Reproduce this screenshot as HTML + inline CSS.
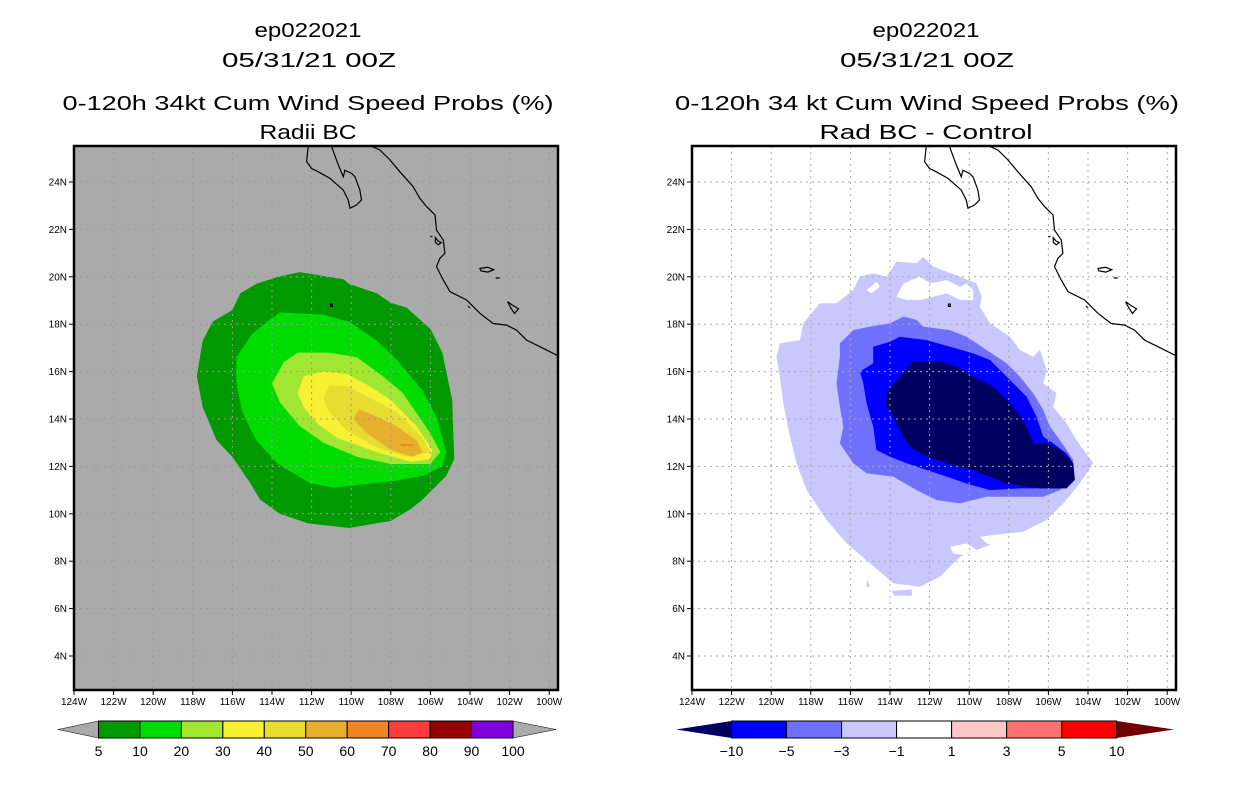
<!DOCTYPE html>
<html><head><meta charset="utf-8"><style>
html,body{margin:0;padding:0;background:#fff;}
svg{display:block;font-family:"Liberation Sans",sans-serif;}
</style></head><body>
<svg id="fig" width="1236" height="800" viewBox="0 0 1236 800" xmlns="http://www.w3.org/2000/svg">
<defs>
<clipPath id="clipL"><rect x="74" y="146" width="484" height="544"/></clipPath>
<clipPath id="clipR"><rect x="692" y="146" width="484" height="544"/></clipPath>
</defs>
<g font-size="20" text-anchor="middle" fill="#000" lengthAdjust="spacingAndGlyphs">
<text x="308" y="37" textLength="107" lengthAdjust="spacingAndGlyphs">ep022021</text>
<text x="309" y="67" textLength="174" lengthAdjust="spacingAndGlyphs">05/31/21 00Z</text>
<text x="308" y="110" textLength="491" lengthAdjust="spacingAndGlyphs">0-120h 34kt Cum Wind Speed Probs (%)</text>
<text x="308" y="139" textLength="97" lengthAdjust="spacingAndGlyphs">Radii BC</text>
</g>
<g font-size="20" text-anchor="middle" fill="#000">
<text x="926" y="37" textLength="107" lengthAdjust="spacingAndGlyphs">ep022021</text>
<text x="927" y="67" textLength="174" lengthAdjust="spacingAndGlyphs">05/31/21 00Z</text>
<text x="927" y="110" textLength="504" lengthAdjust="spacingAndGlyphs">0-120h 34 kt Cum Wind Speed Probs (%)</text>
<text x="926" y="139" textLength="213" lengthAdjust="spacingAndGlyphs">Rad BC - Control</text>
</g>
<g id="left"></g>
<g id="right"></g>
</svg>
<script>
// Axis ticks
const lonTicks = [124,122,120,118,116,114,112,110,108,106,104,102,100];
const latTicks = [4,6,8,10,12,14,16,18,20,22,24];
// Left colorbar
const leftLevels = ['5','10','20','30','40','50','60','70','80','90','100'];
const leftColors = ['#009900','#00dc00','#a0e632','#f8f032','#e6dc32','#e6af2d','#f08228','#fa3c3c','#960000','#8200dc'];
// Right colorbar
const rightLevels = ['\u221210','\u22125','\u22123','\u22121','1','3','5','10'];
const rightColors = ['#000060','#0000ff','#7070ff','#c8c8ff','#ffffff','#ffc8c8','#ff7070','#ff0000','#700000'];

// Left contours [lonW, latN]
const prob5 = [[112.6,20.2],[110.4,19.9],[110.1,19.7],[108.7,19.3],[108.0,18.9],[107.2,18.7],[106.0,17.8],[105.4,16.8],[104.9,14.8],[104.8,12.3],[105.2,11.6],[106.4,10.6],[107.0,10.2],[108.0,9.7],[110.1,9.4],[112.2,9.6],[113.6,10.0],[114.6,10.6],[115.1,11.3],[116.0,12.4],[116.8,13.1],[117.5,14.5],[117.8,15.8],[117.5,17.3],[117.0,18.1],[116.0,18.6],[115.6,19.3],[114.8,19.7],[113.7,20.0]];
const prob10 = [[113.6,18.5],[111.4,18.4],[110.1,18.1],[108.7,17.3],[107.7,16.5],[106.4,15.2],[105.7,14.1],[105.2,12.6],[105.4,12.0],[106.4,11.6],[107.7,11.4],[110.9,11.1],[112.1,11.3],[113.7,12.1],[114.8,13.1],[115.5,14.3],[115.8,15.5],[115.8,16.6],[115.0,17.6],[114.1,18.2]];
const prob20 = [[112.7,16.8],[111.1,16.8],[109.7,16.6],[108.4,15.8],[107.4,15.1],[106.0,13.4],[105.5,12.6],[106.0,12.1],[108.0,12.1],[109.7,12.4],[111.4,13.0],[112.6,13.7],[113.6,14.7],[114.0,15.5],[113.4,16.4]];
const prob30 = [[112.4,15.8],[111.4,16.0],[110.2,15.9],[109.1,15.4],[108.0,14.8],[106.7,13.7],[105.9,12.7],[106.0,12.3],[107.0,12.2],[108.7,12.6],[110.7,13.2],[111.7,13.8],[112.4,14.5],[112.7,15.1]];
const prob40 = [[111.1,15.4],[110.2,15.4],[109.1,14.9],[107.7,14.3],[106.4,13.2],[106.0,12.6],[107.2,12.4],[108.7,12.8],[110.2,13.5],[111.2,14.4],[111.4,14.9]];
const prob50 = [[109.6,14.4],[108.7,14.1],[107.7,13.7],[106.7,13.1],[106.4,12.6],[106.9,12.4],[108.0,12.7],[109.2,13.4],[109.9,14.0]];

// Right difference contours
const diffM1 = [[113.67,20.64],[112.66,20.57],[112.32,20.85],[111.82,20.43],[110.47,20.01],[109.63,19.72],[109.37,19.16],[109.46,18.74],[108.95,18.04],[107.94,17.47],[107.44,16.91],[106.77,16.63],[106.43,16.91],[106.09,16.07],[106.26,15.50],[105.59,15.08],[105.76,14.52],[105.08,13.82],[104.58,13.11],[103.73,12.13],[104.41,11.29],[105.25,10.44],[106.09,9.74],[107.44,9.18],[108.78,8.75],[110.47,8.19],[111.48,7.35],[112.49,6.92],[113.84,7.07],[115.01,7.91],[116.19,8.75],[117.20,9.74],[118.21,11.00],[118.72,12.13],[119.05,13.25],[119.39,14.66],[119.56,15.79],[119.73,16.63],[119.56,17.19],[118.55,17.33],[118.38,18.04],[117.54,18.88],[116.70,18.88],[115.86,19.44],[115.52,20.01],[114.85,20.15],[114.17,20.01]];
const holeA = [[113.67,19.16],[113.33,19.72],[112.49,20.01],[111.98,19.72],[111.14,19.86],[110.47,19.58],[110.13,19.72],[109.80,19.44],[109.80,19.02],[110.47,19.02],[111.14,19.30],[111.82,19.16],[112.49,19.02],[113.16,19.02]];
const holeB = [[115.18,19.44],[114.68,19.79],[114.51,19.58],[114.93,19.30]];
const holeC = [[109.46,9.03],[108.11,9.17],[106.26,9.32],[106.09,8.75],[107.27,8.47],[108.45,8.61],[109.12,8.75]];
const holeD = [[110.97,8.61],[110.13,8.75],[109.63,8.47],[110.30,8.26],[110.81,8.33]];
const blobA = [[115.15,7.2],[115.0,6.95],[115.2,6.9]];
const blobB = [[113.9,6.75],[112.9,6.8],[112.9,6.55],[113.8,6.55]];
const diffM3 = [[116.53,17.19],[115.86,17.75],[115.01,17.90],[114.00,18.04],[113.33,18.32],[112.66,18.18],[112.32,17.90],[110.97,17.75],[110.13,17.47],[109.12,16.91],[108.11,16.35],[107.44,15.79],[106.77,15.08],[106.26,14.38],[105.92,13.68],[105.42,13.11],[104.74,12.27],[104.91,11.43],[105.42,11.00],[106.26,10.72],[107.44,10.72],[109.12,10.72],[110.47,10.44],[111.65,10.58],[112.66,11.00],[113.84,11.57],[115.18,11.71],[115.86,12.13],[116.53,12.97],[116.36,13.68],[116.53,14.52],[116.70,15.50],[116.53,16.63]];
const diffM5 = [[114.85,17.05],[114.00,17.26],[113.50,17.47],[112.15,17.33],[110.97,17.05],[109.80,16.77],[108.95,16.49],[108.11,15.79],[107.10,14.94],[106.60,14.10],[106.26,13.25],[105.76,12.97],[105.08,12.55],[104.74,12.13],[104.74,11.43],[105.08,11.07],[105.92,11.07],[107.44,11.07],[108.95,11.00],[110.13,11.28],[111.14,11.57],[112.15,11.85],[113.16,12.13],[114.00,12.41],[114.68,12.69],[114.85,13.68],[115.18,14.66],[115.35,15.50],[115.52,16.00],[114.85,16.35]];
const diffM10 = [[112.83,16.42],[111.48,16.42],[110.64,16.21],[109.80,15.79],[108.78,15.36],[107.94,14.66],[107.27,13.96],[106.77,12.97],[106.09,12.97],[105.42,12.69],[104.74,12.13],[104.66,11.43],[105.08,11.07],[106.43,11.07],[108.11,11.28],[109.80,11.85],[111.14,12.13],[112.15,12.41],[112.99,12.83],[113.33,13.25],[113.84,14.10],[114.26,14.66],[114.09,15.22],[113.50,15.79]];

// Coastlines
const bajaCoast = [[112.2,25.9],[112.17,25.49],[112.25,24.86],[112.00,24.57],[111.66,24.43],[111.07,24.15],[110.40,23.66],[110.15,23.24],[110.06,22.89],[109.73,23.03],[109.48,23.24],[109.56,23.66],[109.81,24.22],[109.98,24.36],[110.32,24.50],[110.40,24.22],[110.65,24.72],[110.99,25.49],[111.1,25.9]];
const mainCoast = [[109.3,25.9],[109.05,25.53],[108.55,25.35],[108.04,24.93],[107.54,24.43],[106.87,23.80],[106.53,23.31],[106.19,22.96],[105.77,22.61],[105.69,21.97],[105.35,21.55],[105.27,20.99],[105.52,20.78],[105.69,20.43],[105.35,19.86],[105.01,19.37],[104.17,19.02],[103.50,18.46],[102.83,18.03],[102.15,17.96],[101.65,17.75],[101.14,17.33],[100.47,17.05],[99.63,16.70],[99.3,16.55]];
const islands = [
 [[105.75,21.65],[105.6,21.5],[105.45,21.45],[105.6,21.35],[105.75,21.45]],
 [[103.5,20.35],[103.1,20.4],[102.8,20.3],[103.1,20.2],[103.45,20.25]],
 [[102.1,18.95],[101.85,18.8],[101.55,18.65],[101.75,18.45],[101.95,18.7]],
 [[111.05,18.85],[110.95,18.85],[110.95,18.75],[111.05,18.75]],
 [[102.7,19.95],[102.5,19.95]],[[106.0,21.7],[105.9,21.7]],[[104.1,18.75],[104.0,18.7]]
];

const NS='http://www.w3.org/2000/svg';
function mk(tag, attrs, parent){const e=document.createElementNS(NS,tag);for(const k in attrs)e.setAttribute(k,attrs[k]);parent.appendChild(e);return e;}
function makeAxes(x0){
  return {
    x: lonW => x0 + (124 - lonW) * 19.8,
    y: lat => 182 + (24 - lat) * 23.7
  };
}
function pts(poly, ax){return poly.map(p=>ax.x(p[0]).toFixed(1)+','+ax.y(p[1]).toFixed(1)).join(' ');}

function drawPanel(g, x0, bg, clipId, layers, gridColor){
  const ax = makeAxes(x0);
  const bgRect = mk('rect',{x:x0,y:146,width:484,height:544,fill:bg},g);
  
  
  const cg = mk('g',{'clip-path':'url(#'+clipId+')'},g);
  
  
  layers.forEach(l=>{
    const p = mk('polygon',{points:pts(l.poly,ax),fill:l.color},cg);
    
    
  });
  const gg = mk('g',{stroke:gridColor,'stroke-width':1,'stroke-dasharray':'2,4'},cg);
  
  
  lonTicks.forEach(t=>{const X=ax.x(t);const l=mk('line',{x1:X,y1:146,x2:X,y2:690},gg);
    
    });
  latTicks.forEach(t=>{const Y=ax.y(t);const l=mk('line',{x1:x0,y1:Y,x2:x0+484,y2:Y},gg);
    
    });
  const coast = mk('g',{fill:'none',stroke:'#000','stroke-width':1.2},cg);
  
  
  [bajaCoast, mainCoast].forEach(c=>{const pl=mk('polyline',{points:pts(c,ax)},coast);
    
    });
  islands.forEach(c=>{const pl=mk('polygon',{points:pts(c,ax)},coast);
    
    });
  const fr = mk('rect',{x:x0,y:146,width:484,height:544,fill:'none',stroke:'#000','stroke-width':2.5},g);
  
  
  const tg = mk('g',{'font-size':10,fill:'#000'},g);
  
  
  lonTicks.forEach(t=>{const X=ax.x(t);
    const tk=mk('line',{x1:X,y1:690,x2:X,y2:695,stroke:'#000'},tg);
    
    
    const tx=mk('text',{x:X,y:705,'text-anchor':'middle'},tg);tx.textContent=t+'W';
    
    });
  latTicks.forEach(t=>{const Y=ax.y(t);
    const tk=mk('line',{x1:x0-5,y1:Y,x2:x0,y2:Y,stroke:'#000'},tg);
    
    
    const tx=mk('text',{x:x0-7,y:Y+3.5,'text-anchor':'end'},tg);tx.textContent=t+'N';
    
    });
  return ax;
}

function drawColorbar(g, bx0, bx1, tipL, tipR, colors, labels, leftTip, rightTip){
  const cb = mk('g',{},g);
  
  
  const y0=721, y1=738, ym=(y0+y1)/2;
  const n = colors.length; const w=(bx1-bx0)/n;
  const tl=mk('polygon',{points:`${bx0},${y0} ${tipL},${ym} ${bx0},${y1}`,fill:leftTip,stroke:'#000','stroke-width':0.5},cb);
  
  
  const tr=mk('polygon',{points:`${bx1},${y0} ${tipR},${ym} ${bx1},${y1}`,fill:rightTip,stroke:'#000','stroke-width':0.5},cb);
  
  
  colors.forEach((c,i)=>{const r=mk('rect',{x:bx0+i*w,y:y0,width:w,height:y1-y0,fill:c,stroke:'#000','stroke-width':1},cb);
    
    });
  labels.forEach((t,i)=>{
    const tx=mk('text',{x:bx0+i*w,y:756,'text-anchor':'middle','font-size':14},cb);tx.textContent=t;
    
    });
}

const L=document.getElementById('left');
drawPanel(L,74,'#aaaaaa','clipL',[
  {poly:prob5,color:leftColors[0],name:'prob-5-contour'},
  {poly:prob10,color:leftColors[1],name:'prob-10-contour'},
  {poly:prob20,color:leftColors[2],name:'prob-20-contour'},
  {poly:prob30,color:leftColors[3],name:'prob-30-contour'},
  {poly:prob40,color:leftColors[4],name:'prob-40-contour'},
  {poly:prob50,color:leftColors[5],name:'prob-50-contour'}
],'#9a9a9a');
const axL=makeAxes(74);
const arrow=mk('line',{x1:axL.x(107.5),y1:axL.y(12.9),x2:axL.x(106.9),y2:axL.y(12.9),stroke:'#f08228','stroke-width':2},L);


drawColorbar(L,98.5,513,58,556,leftColors,leftLevels,'#aaaaaa','#aaaaaa');

const R=document.getElementById('right');
drawPanel(R,692,'#ffffff','clipR',[
  {poly:diffM1,color:rightColors[3],name:'diff-minus1-contour'},
  {poly:holeA,color:'#ffffff',name:'diff-zero-region'},
  {poly:holeB,color:'#ffffff',name:'diff-zero-region'},
  {poly:holeC,color:'#ffffff',name:'diff-zero-region'},
  {poly:holeD,color:'#ffffff',name:'diff-zero-region'},
  {poly:blobA,color:rightColors[3],name:'diff-minus1-blob'},
  {poly:blobB,color:rightColors[3],name:'diff-minus1-blob'},
  {poly:diffM3,color:rightColors[2],name:'diff-minus3-contour'},
  {poly:diffM5,color:rightColors[1],name:'diff-minus5-contour'},
  {poly:diffM10,color:rightColors[0],name:'diff-minus10-contour'}
],'#a8a8a8');
(function(){
  const w=(1116.7-731.5)/7;
  const cb = mk('g',{},R);
  
  
  const y0=721,y1=738,ym=729.5,bx0=731.5,bx1=1116.7;
  const tl=mk('polygon',{points:`${bx0},${y0} 676,${ym} ${bx0},${y1}`,fill:rightColors[0]},cb);
  
  
  const tr=mk('polygon',{points:`${bx1},${y0} 1174,${ym} ${bx1},${y1}`,fill:rightColors[8]},cb);
  
  
  for(let i=1;i<8;i++){const r=mk('rect',{x:bx0+(i-1)*w,y:y0,width:w,height:y1-y0,fill:rightColors[i],stroke:'#000','stroke-width':1},cb);
    
    }
  rightLevels.forEach((t,i)=>{const tx=mk('text',{x:bx0+i*w,y:756,'text-anchor':'middle','font-size':14},cb);tx.textContent=t;
    
    });
})();
</script>
</body></html>
